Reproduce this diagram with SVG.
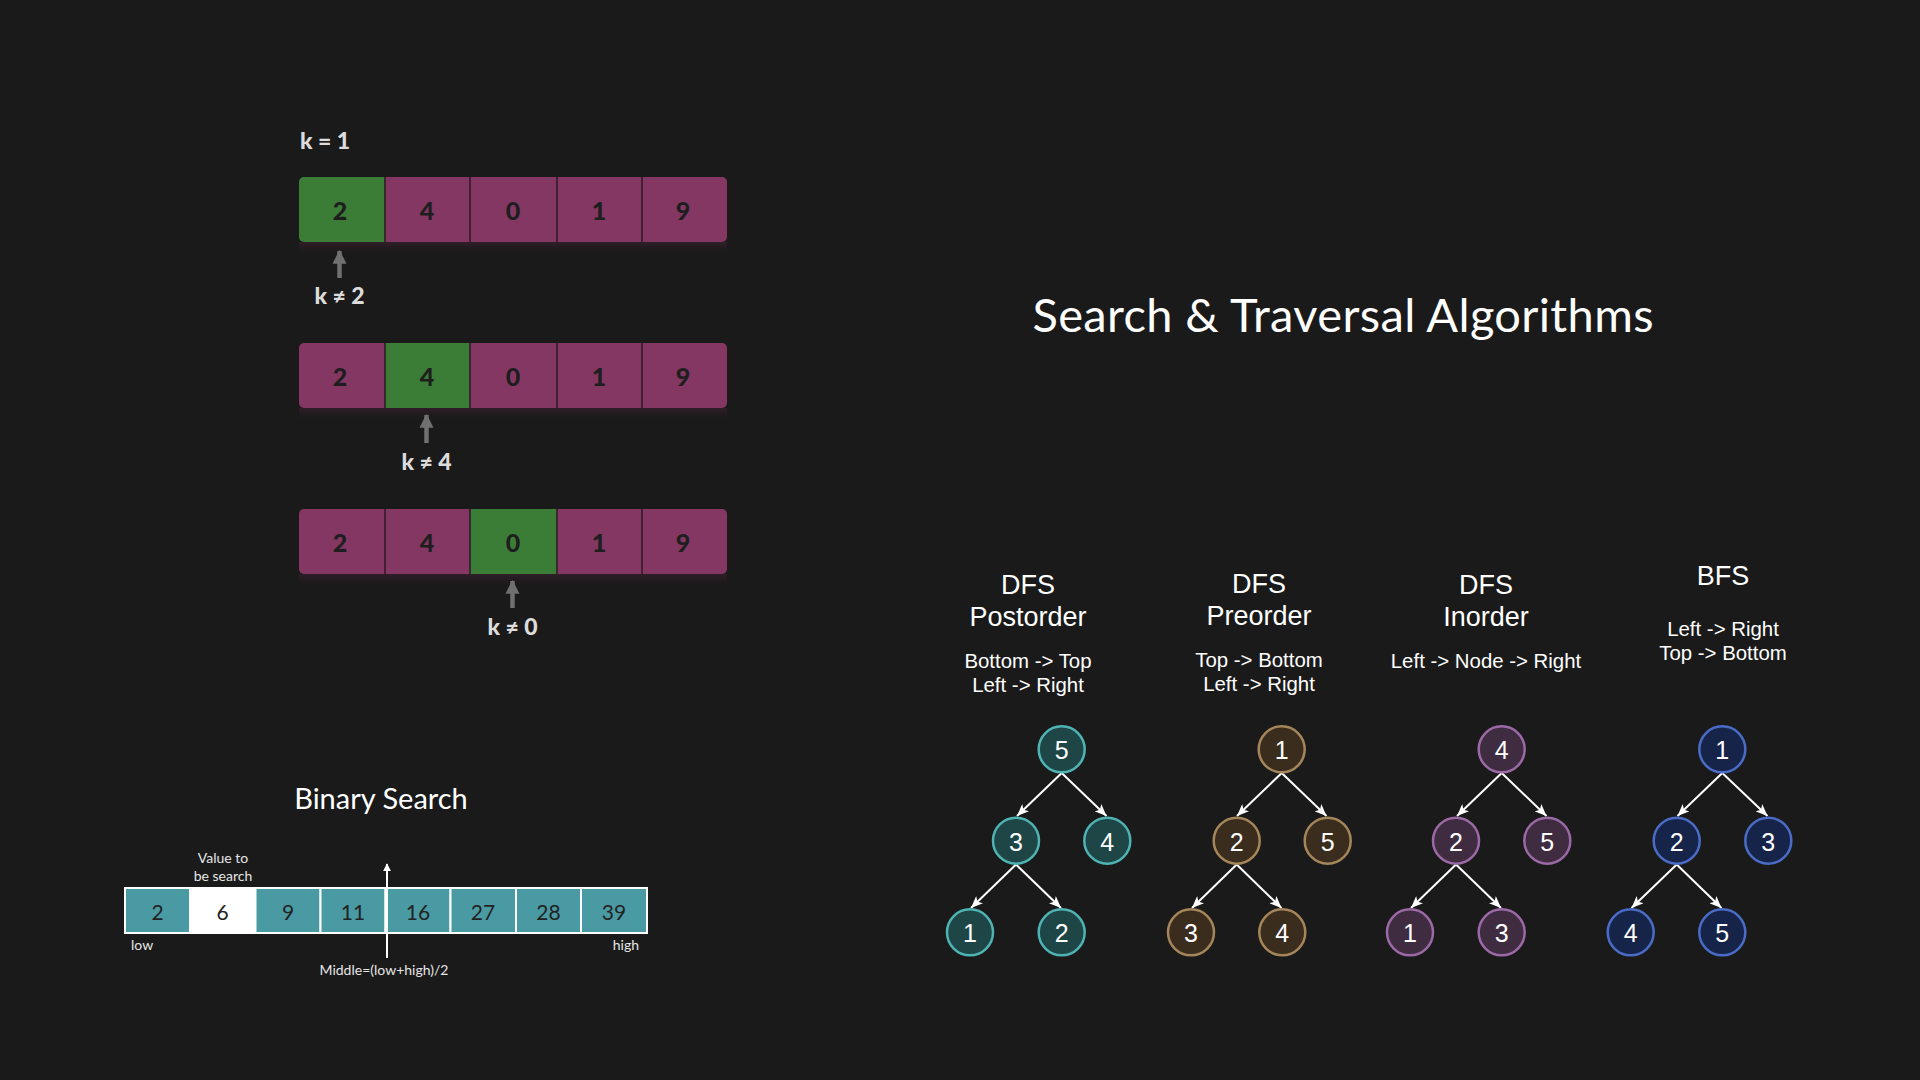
<svg xmlns="http://www.w3.org/2000/svg" width="1920" height="1080" viewBox="0 0 1920 1080">
<defs>
<style>
.bg{fill:#1a1a1a}
.lbl{font-family:Lato,"Liberation Sans",sans-serif;font-weight:900;font-size:23px;fill:#dcdcdc;text-anchor:middle}
.cellg{fill:#3b7d36}
.cellp{fill:#853764}
.div{stroke:#2a1a22;stroke-width:1.5}
.num{font-family:Lato,"Liberation Sans",sans-serif;font-weight:900;font-size:25px;fill:#1e1e1e;text-anchor:middle;dominant-baseline:central}
.garrow{stroke:#707070;stroke-width:4.5}
.bcell{fill:#4a9aa4;stroke:#ffffff;stroke-width:2}
.bwhite{fill:#ffffff;stroke:#ffffff;stroke-width:2}
.bnum{font-family:Lato,"Liberation Sans",sans-serif;font-size:21px;fill:#222222;text-anchor:middle;dominant-baseline:central}
.small{font-family:Lato,"Liberation Sans",sans-serif;font-size:14px;fill:#e6e6e6}
.title{font-family:Lato,"Open Sans",sans-serif;font-size:47px;fill:#ffffff;text-anchor:middle}
.sub{font-family:Lato,"Open Sans",sans-serif;font-size:29px;fill:#ffffff;text-anchor:middle}
.head{font-family:"Liberation Sans",Arial,sans-serif;font-size:27px;fill:#ffffff;text-anchor:middle}
.desc{font-family:"Liberation Sans",Arial,sans-serif;font-size:20.4px;fill:#ffffff;text-anchor:middle}
.nnum{font-family:"Liberation Sans",Arial,sans-serif;font-size:25px;fill:#ffffff;text-anchor:middle;dominant-baseline:central}
.teal{fill:#1e4647;stroke:#4fb3b3;stroke-width:2.5}
.brown{fill:#3b2d1e;stroke:#a5865a;stroke-width:2.5}
.purple{fill:#3f2c40;stroke:#9b6aa6;stroke-width:2.5}
.blue{fill:#17244a;stroke:#4a6cc6;stroke-width:2.5}
.edge{stroke:#ffffff;stroke-width:2;fill:none;marker-end:url(#ah)}
</style>
<marker id="ah" viewBox="0 0 12 10" refX="12" refY="5" markerWidth="12" markerHeight="10" markerUnits="userSpaceOnUse" orient="auto">
<path d="M0,0 L12,5 L0,10 L3,5 Z" fill="#ffffff"/>
</marker>
<marker id="gah" viewBox="0 0 12 12" refX="11" refY="6" markerWidth="14" markerHeight="15" markerUnits="userSpaceOnUse" orient="auto">
<path d="M0,0 L12,6 L0,12 Z" fill="#707070"/>
</marker>
<marker id="wah" viewBox="0 0 10 10" refX="9" refY="5" markerWidth="8" markerHeight="9" markerUnits="userSpaceOnUse" orient="auto">
<path d="M0,0 L10,5 L0,10 Z" fill="#ffffff"/>
</marker>
<linearGradient id="shadow" x1="0" y1="0" x2="0" y2="1">
<stop offset="0" stop-color="#3a1f2e" stop-opacity="0.7"/>
<stop offset="1" stop-color="#1a1a1a" stop-opacity="0"/>
</linearGradient>
<clipPath id="rowclip"><rect x="0" y="0" width="428" height="65" rx="5"/></clipPath>
</defs>
<rect class="bg" x="0" y="0" width="1920" height="1080"/>

<g id="linear-search">
<text class="lbl" x="300" y="149" style="text-anchor:start">k = 1</text>

<g id="row1" transform="translate(299,177)">
<rect x="0" y="65" width="428" height="14" fill="url(#shadow)"/>
<g clip-path="url(#rowclip)">
<rect class="cellg" x="0" y="0" width="86" height="65"/>
<rect class="cellp" x="86" y="0" width="342" height="65"/>
</g>
<line class="div" x1="86" y1="0" x2="86" y2="65"/>
<line class="div" x1="171" y1="0" x2="171" y2="65"/>
<line class="div" x1="258" y1="0" x2="258" y2="65"/>
<line class="div" x1="343" y1="0" x2="343" y2="65"/>
<text class="num" x="41" y="33">2</text>
<text class="num" x="128" y="33">4</text>
<text class="num" x="214" y="33">0</text>
<text class="num" x="300" y="33">1</text>
<text class="num" x="384" y="33">9</text>
</g>

<g id="row2" transform="translate(299,343)">
<rect x="0" y="65" width="428" height="14" fill="url(#shadow)"/>
<g clip-path="url(#rowclip)">
<rect class="cellp" x="0" y="0" width="428" height="65"/>
<rect class="cellg" x="86" y="0" width="85" height="65"/>
</g>
<line class="div" x1="86" y1="0" x2="86" y2="65"/>
<line class="div" x1="171" y1="0" x2="171" y2="65"/>
<line class="div" x1="258" y1="0" x2="258" y2="65"/>
<line class="div" x1="343" y1="0" x2="343" y2="65"/>
<text class="num" x="41" y="33">2</text>
<text class="num" x="128" y="33">4</text>
<text class="num" x="214" y="33">0</text>
<text class="num" x="300" y="33">1</text>
<text class="num" x="384" y="33">9</text>
</g>

<g id="row3" transform="translate(299,509)">
<rect x="0" y="65" width="428" height="14" fill="url(#shadow)"/>
<g clip-path="url(#rowclip)">
<rect class="cellp" x="0" y="0" width="428" height="65"/>
<rect class="cellg" x="171" y="0" width="87" height="65"/>
</g>
<line class="div" x1="86" y1="0" x2="86" y2="65"/>
<line class="div" x1="171" y1="0" x2="171" y2="65"/>
<line class="div" x1="258" y1="0" x2="258" y2="65"/>
<line class="div" x1="343" y1="0" x2="343" y2="65"/>
<text class="num" x="41" y="33">2</text>
<text class="num" x="128" y="33">4</text>
<text class="num" x="214" y="33">0</text>
<text class="num" x="300" y="33">1</text>
<text class="num" x="384" y="33">9</text>
</g>

<g id="pointers">
<line class="garrow" x1="339.5" y1="278" x2="339.5" y2="251" marker-end="url(#gah)"/>
<text class="lbl" x="339.5" y="304">k ≠ 2</text>
<line class="garrow" x1="426.5" y1="443" x2="426.5" y2="415" marker-end="url(#gah)"/>
<text class="lbl" x="426.5" y="470">k ≠ 4</text>
<line class="garrow" x1="512.5" y1="608" x2="512.5" y2="581" marker-end="url(#gah)"/>
<text class="lbl" x="512.5" y="635">k ≠ 0</text>
</g>
</g>

<g id="binary-search">
<text class="sub" x="381" y="809">Binary Search</text>
<rect x="125" y="888" width="522" height="45" fill="none" stroke="#ffffff" stroke-width="2"/>
<rect class="bcell" x="125" y="888" width="65" height="45"/>
<rect class="bwhite" x="190" y="888" width="65.5" height="45"/>
<rect class="bcell" x="255.5" y="888" width="65" height="45"/>
<rect class="bcell" x="320.5" y="888" width="65" height="45"/>
<rect class="bcell" x="385.5" y="888" width="65" height="45"/>
<rect class="bcell" x="450.5" y="888" width="65.5" height="45"/>
<rect class="bcell" x="516" y="888" width="65" height="45"/>
<rect class="bcell" x="581" y="888" width="66" height="45"/>
<text class="bnum" x="157.5" y="911">2</text>
<text class="bnum" x="222.7" y="911">6</text>
<text class="bnum" x="288" y="911">9</text>
<text class="bnum" x="353" y="911">11</text>
<text class="bnum" x="418" y="911">16</text>
<text class="bnum" x="483" y="911">27</text>
<text class="bnum" x="548.5" y="911">28</text>
<text class="bnum" x="614" y="911">39</text>
<text class="small" x="223" y="863" style="text-anchor:middle">Value to</text>
<text class="small" x="223" y="881" style="text-anchor:middle">be search</text>
<text class="small" x="131" y="950">low</text>
<text class="small" x="639" y="950" style="text-anchor:end">high</text>
<line x1="387" y1="958" x2="387" y2="864" stroke="#ffffff" stroke-width="2" marker-end="url(#wah)"/>
<text class="small" x="384" y="975" style="text-anchor:middle">Middle=(low+high)/2</text>
</g>

<text id="title" class="title" x="1343" y="332" textLength="621" lengthAdjust="spacing">Search &amp; Traversal Algorithms</text>

<g id="headings">
<text class="head" x="1028" y="594">DFS</text>
<text class="head" x="1028" y="626">Postorder</text>
<text class="desc" x="1028" y="668">Bottom -&gt; Top</text>
<text class="desc" x="1028" y="692">Left -&gt; Right</text>
<text class="head" x="1259" y="593">DFS</text>
<text class="head" x="1259" y="625">Preorder</text>
<text class="desc" x="1259" y="667">Top -&gt; Bottom</text>
<text class="desc" x="1259" y="691">Left -&gt; Right</text>
<text class="head" x="1486" y="594">DFS</text>
<text class="head" x="1486" y="626">Inorder</text>
<text class="desc" x="1486" y="668">Left -&gt; Node -&gt; Right</text>
<text class="head" x="1723" y="585">BFS</text>
<text class="desc" x="1723" y="636">Left -&gt; Right</text>
<text class="desc" x="1723" y="660">Top -&gt; Bottom</text>
</g>

<g id="connectors">
<path class="edge" d="M1061.7,773 L1017,816"/>
<path class="edge" d="M1061.7,773 L1106.5,816"/>
<path class="edge" d="M1016,864.5 L971,908"/>
<path class="edge" d="M1016,864.5 L1061,908"/>
<path class="edge" d="M1281.7,773 L1237,816"/>
<path class="edge" d="M1281.7,773 L1326.5,816"/>
<path class="edge" d="M1236.7,864.5 L1192,908"/>
<path class="edge" d="M1236.7,864.5 L1281.5,908"/>
<path class="edge" d="M1501.7,773 L1457,816"/>
<path class="edge" d="M1501.7,773 L1546.5,816"/>
<path class="edge" d="M1456,864.5 L1411,908"/>
<path class="edge" d="M1456,864.5 L1501,908"/>
<path class="edge" d="M1722.3,773 L1677.5,816"/>
<path class="edge" d="M1722.3,773 L1767.5,816"/>
<path class="edge" d="M1676.7,864.5 L1631.5,908"/>
<path class="edge" d="M1676.7,864.5 L1721.5,908"/>
</g>

<g id="post-5"><circle class="teal" cx="1061.7" cy="749.3" r="23"/><text class="nnum" x="1061.7" y="750">5</text></g>
<g id="post-3"><circle class="teal" cx="1016" cy="840.7" r="23"/><text class="nnum" x="1016" y="841.5">3</text></g>
<g id="post-4"><circle class="teal" cx="1107.3" cy="840.7" r="23"/><text class="nnum" x="1107.3" y="841.5">4</text></g>
<g id="post-1"><circle class="teal" cx="970" cy="932.3" r="23"/><text class="nnum" x="970" y="933">1</text></g>
<g id="post-2"><circle class="teal" cx="1061.7" cy="932.3" r="23"/><text class="nnum" x="1061.7" y="933">2</text></g>

<g id="pre-1"><circle class="brown" cx="1281.7" cy="749.3" r="23"/><text class="nnum" x="1281.7" y="750">1</text></g>
<g id="pre-2"><circle class="brown" cx="1236.7" cy="840.7" r="23"/><text class="nnum" x="1236.7" y="841.5">2</text></g>
<g id="pre-5"><circle class="brown" cx="1327.7" cy="840.7" r="23"/><text class="nnum" x="1327.7" y="841.5">5</text></g>
<g id="pre-3"><circle class="brown" cx="1191" cy="932.3" r="23"/><text class="nnum" x="1191" y="933">3</text></g>
<g id="pre-4"><circle class="brown" cx="1282.3" cy="932.3" r="23"/><text class="nnum" x="1282.3" y="933">4</text></g>

<g id="in-4"><circle class="purple" cx="1501.7" cy="749.3" r="23"/><text class="nnum" x="1501.7" y="750">4</text></g>
<g id="in-2"><circle class="purple" cx="1456" cy="840.7" r="23"/><text class="nnum" x="1456" y="841.5">2</text></g>
<g id="in-5"><circle class="purple" cx="1547.3" cy="840.7" r="23"/><text class="nnum" x="1547.3" y="841.5">5</text></g>
<g id="in-1"><circle class="purple" cx="1410" cy="932.3" r="23"/><text class="nnum" x="1410" y="933">1</text></g>
<g id="in-3"><circle class="purple" cx="1501.7" cy="932.3" r="23"/><text class="nnum" x="1501.7" y="933">3</text></g>

<g id="bfs-1"><circle class="blue" cx="1722.3" cy="749.3" r="23"/><text class="nnum" x="1722.3" y="750">1</text></g>
<g id="bfs-2"><circle class="blue" cx="1676.7" cy="840.7" r="23"/><text class="nnum" x="1676.7" y="841.5">2</text></g>
<g id="bfs-3"><circle class="blue" cx="1768.3" cy="840.7" r="23"/><text class="nnum" x="1768.3" y="841.5">3</text></g>
<g id="bfs-4"><circle class="blue" cx="1630.7" cy="932.3" r="23"/><text class="nnum" x="1630.7" y="933">4</text></g>
<g id="bfs-5"><circle class="blue" cx="1722.3" cy="932.3" r="23"/><text class="nnum" x="1722.3" y="933">5</text></g>
</svg>
